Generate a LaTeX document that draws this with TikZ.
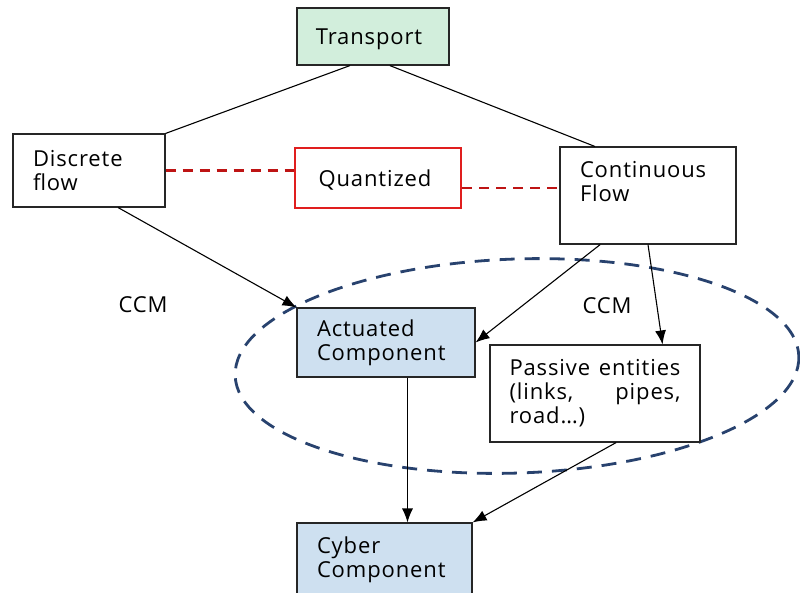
\documentclass[tikz,border=0pt]{standalone}
\usepackage{fontspec}
\setmainfont[LetterSpace=4]{Open Sans}
\usetikzlibrary{calc,arrows.meta}
\definecolor{boxgreen}{RGB}{210,238,220}
\definecolor{boxblue}{RGB}{206,224,240}
\definecolor{ellblue}{RGB}{40,66,110}
\definecolor{qred}{RGB}{224,30,30}
\definecolor{dred}{RGB}{190,20,20}
\tikzset{
  box/.style={draw=black!85, line width=1.1pt, fill=white, inner xsep=20pt, inner ysep=0pt,
    align=left, font=\fontsize{22}{24}\selectfont},
  arr/.style={line width=1.1pt, -{Latex[length=14pt,width=11pt]}},
  plain/.style={line width=1.1pt},
  reddash/.style={draw=dred, line width=2.2pt, dash pattern=on 10pt off 7pt},
  elldash/.style={draw=ellblue, line width=2.8pt, dash pattern=on 15pt off 10pt},
  lbl/.style={font=\fontsize{22}{24}\selectfont, inner sep=0pt}
}
\begin{document}
\begin{tikzpicture}[x=1pt,y=-1pt]
\useasboundingbox (0,0) rectangle (800,592);
% ellipse (behind)
\draw[elldash, rotate around={2:(517,366)}] (517,366) ellipse [x radius=282, y radius=107];
% nodes
\node[box, fill=boxgreen, minimum width=152pt, minimum height=57pt, align=center, inner xsep=0pt, text depth=0pt] (trans) at (373,36.5) {\hspace*{-8pt}Transport};
\node[box, text width=112pt, minimum height=73pt] (disc) at (89,170.5) {Discrete\\flow};
\node[box, draw=qred, line width=2.6pt, minimum width=166pt, minimum height=60pt, align=center, inner xsep=0pt, text depth=0pt] (quant) at (378,178) {\hspace*{-6pt}Quantized};
\node[box, minimum width=176pt, minimum height=97pt, inner xsep=0pt] (cont) at (648,195.5)
  {\parbox[c][97pt][t]{136pt}{\vspace{14pt}Continuous\\Flow}};
\node[box, fill=boxblue, text width=138pt, minimum height=69pt] (act) at (386,342.5) {Actuated\\Component};
\node[box, text width=171pt, minimum height=97pt, align=justify, inner xsep=19.5pt] (pass) at (595,393.5)
  {Passive entities\linebreak (links, pipes,\linebreak road\ldots)};
\node[box, fill=boxblue, minimum width=175pt, minimum height=90pt, inner xsep=0pt] (cyber) at (384.5,568)
  {\parbox[c][90pt][t]{135pt}{\vspace{14pt}Cyber\\Component}};
% labels
\node[lbl] (ccm1) at (143,305) {CCM};
\node[lbl] (ccm2) at (607,306) {CCM};
% connectors
\draw[plain] ($(trans.south west)!0.35!(trans.south east)$) -- (disc.north east);
\draw[plain] ($(trans.south west)!0.61!(trans.south east)$) -- ($(cont.north west)!0.2!(cont.north east)$);
\draw[reddash] (disc.east) -- (disc.east -| quant.west);
\coordinate (cw) at ($(cont.north west)!0.42!(cont.south west)$);
\draw[reddash] (cw -| quant.east) -- (cw);
\draw[arr] ($(disc.south west)!0.69!(disc.south east)$) -- (act.north west);
\draw[arr] ($(cont.south west)!0.23!(cont.south east)$) -- (act.east);
\draw[arr] ($(cont.south west)!0.5!(cont.south east)$) -- ($(pass.north west)!0.82!(pass.north east)$);
\coordinate (as) at ($(act.south west)!0.62!(act.south east)$);
\draw[arr] (as) -- (as |- cyber.north);
\draw[arr] ($(pass.south west)!0.6!(pass.south east)$) -- (cyber.north east);
\end{tikzpicture}
\end{document}
